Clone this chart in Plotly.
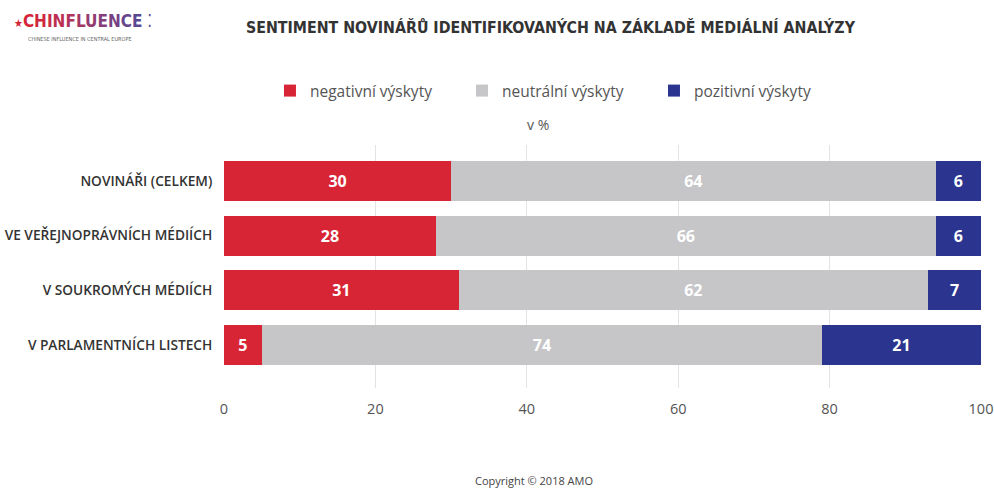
import plotly.graph_objects as go

categories = ["NOVINÁŘI (CELKEM)", "VE VEŘEJNOPRÁVNÍCH MÉDIÍCH", "V SOUKROMÝCH MÉDIÍCH", "V PARLAMENTNÍCH LISTECH"]
negative = [30, 28, 31, 5]
neutral = [64, 66, 62, 74]
positive = [6, 6, 7, 21]
series_names = ["negativní výskyty", "neutrální výskyty", "pozitivní výskyty"]
x_ticks = [0, 20, 40, 60, 80, 100]

colors = ["#d82536", "#c6c6c8", "#2b348f"]

fig = go.Figure()
for name, vals, col in zip(series_names, [negative, neutral, positive], colors):
    fig.add_trace(go.Bar(
        y=categories, x=vals, name=name, orientation="h",
        marker=dict(color=col, line=dict(width=0)),
        text=[str(v) for v in vals], textposition="inside",
        insidetextanchor="middle",
        textfont=dict(family="Open Sans", size=16, color="white", weight="bold"),
        width=0.73,
        hoverinfo="x+y",
    ))

fig.update_layout(
    width=994, height=488,
    barmode="stack",
    plot_bgcolor="white", paper_bgcolor="white",
    margin=dict(l=224, r=13, t=145, b=100, autoexpand=False),
    font=dict(family="Open Sans", color="#555555"),
    showlegend=True,
    legend=dict(
        orientation="h", xref="container", yref="container",
        x=0.2716, xanchor="left", y=0.8135, yanchor="middle",
        entrywidth=147, entrywidthmode="pixels",
        font=dict(family="Open Sans", size=15.5, color="#555555"),
        traceorder="normal",
        itemclick=False, itemdoubleclick=False,
    ),
    uniformtext=dict(minsize=10, mode="show"),
)

fig.update_xaxes(
    range=[0, 100], tickvals=x_ticks, ticktext=[str(t) for t in x_ticks],
    showgrid=True, gridcolor="#e3e3e3", gridwidth=1, zeroline=False,
    ticks="outside", ticklen=8, tickcolor="rgba(0,0,0,0)",
    tickfont=dict(family="Open Sans", size=14.5, color="#555555"),
    showline=False, fixedrange=True, automargin=False,
)
fig.update_yaxes(
    categoryorder="array", categoryarray=categories,
    range=[3.79, -0.66], showgrid=False, zeroline=False,
    ticks="outside", ticklen=8, tickcolor="rgba(0,0,0,0)",
    tickfont=dict(family="Open Sans", size=13.7, color="#333333", weight=600),
    fixedrange=True, automargin=False,
)

# Title
fig.add_annotation(
    text="<b>SENTIMENT NOVINÁŘŮ IDENTIFIKOVANÝCH NA ZÁKLADĚ MEDIÁLNÍ ANALÝZY</b>",
    xref="paper", yref="paper", x=(551 - 224) / 757, y=1 + (145 - 27) / 243,
    xanchor="center", yanchor="middle", showarrow=False,
    font=dict(family="DejaVu Sans Condensed", size=15.8, color="#333333"),
)

# "v %" subtitle
fig.add_annotation(
    text="v %", xref="paper", yref="paper",
    x=(538 - 224) / 757, y=1 + (145 - 125) / 243,
    xanchor="center", yanchor="middle", showarrow=False,
    font=dict(family="Open Sans", size=14, color="#555555"),
)

# Logo
logo_letters = "CHINFLUENCE"
grad = ["#d52638", "#cf2940", "#c72c48", "#bd3052", "#b1345c", "#a33867", "#943c71",
        "#853f7b", "#764284", "#67458c", "#5a4793"]
logo_html = "".join(f"<span style='color:{c}'>{ch}</span>" for ch, c in zip(logo_letters, grad))
fig.add_annotation(
    text="<span style='color:#d52638;font-size:11px'>★</span><b>" + logo_html + "</b><span style='color:#5a4793'> ⁚</span>",
    xref="paper", yref="paper",
    x=(12 - 224) / 757, y=1 + (145 - 21) / 243,
    xanchor="left", yanchor="middle", showarrow=False,
    font=dict(family="DejaVu Sans Condensed", size=17),
)
fig.add_annotation(
    text="CHINESE INFLUENCE IN CENTRAL EUROPE",
    xref="paper", yref="paper",
    x=(26 - 224) / 757, y=1 + (145 - 39) / 243,
    xanchor="left", yanchor="middle", showarrow=False,
    font=dict(family="DejaVu Sans Condensed", size=5.5, color="#666666"),
)

# Copyright
fig.add_annotation(
    text="Copyright © 2018 AMO", xref="paper", yref="paper",
    x=(534 - 224) / 757, y=-(480 - 388) / 243,
    xanchor="center", yanchor="middle", showarrow=False,
    font=dict(family="Open Sans", size=11, color="#444444"),
)

fig.write_html("out.html", config={"displayModeBar": False},
               post_script="document.body.style.margin='0';")
